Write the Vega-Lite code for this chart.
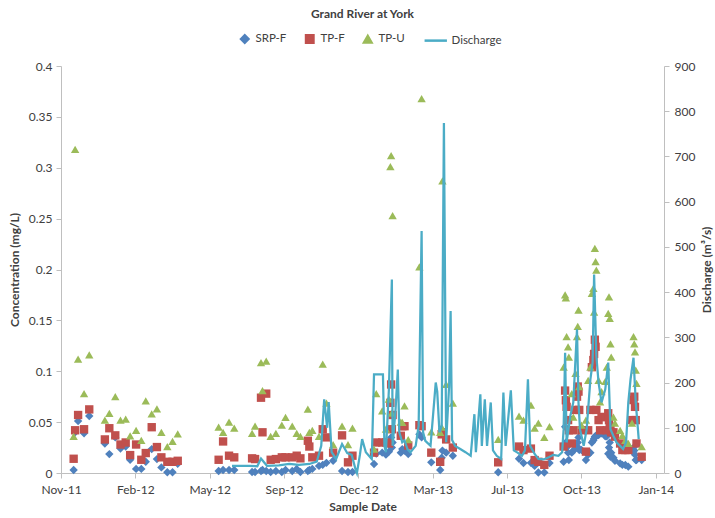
{
  "$schema": "https://vega.github.io/schema/vega-lite/v6.json",
  "width": 603,
  "height": 407,
  "autosize": {"type": "none"},
  "padding": {"left": 61, "top": 66, "right": 51, "bottom": 45},
  "background": "white",
  "title": {"text": "Grand River at York", "frame": "group", "anchor": "middle", "offset": 12, "font": "Lato", "fontSize": 12, "fontWeight": "bold", "color": "#404040"},
  "config": {
    "view": {"stroke": null},
    "font": "Lato",
    "axis": {"grid": false, "domainColor": "#BFBFBF", "tickColor": "#BFBFBF", "labelColor": "#404040", "labelFontSize": 12, "labelFont": "Lato", "titleFont": "Lato", "titleFontSize": 12, "titleFontWeight": "bold", "titleColor": "#404040", "tickSize": 5},
    "legend": {
      "title": null, "orient": "none", "direction": "horizontal", "legendX": 178, "legendY": -33,
      "labelFontSize": 11.5, "labelColor": "#404040", "labelFont": "Lato", "columnPadding": 14, "labelOffset": 5, "padding": 0
    }
  },
  "datasets": {
    "samples": [
      {"date": "2011-11-27", "SRP-F": 0.003, "TP-F": 0.014, "TP-U": 0.036},
      {"date": "2011-11-29", "SRP-F": 0.040, "TP-F": 0.042, "TP-U": 0.318},
      {"date": "2011-12-03", "SRP-F": 0.051, "TP-F": 0.057, "TP-U": 0.112},
      {"date": "2011-12-11", "SRP-F": 0.039, "TP-F": 0.043, "TP-U": 0.078},
      {"date": "2011-12-18", "SRP-F": 0.056, "TP-F": 0.0625, "TP-U": 0.116},
      {"date": "2012-01-08", "SRP-F": 0.029, "TP-F": 0.033, "TP-U": 0.052},
      {"date": "2012-01-14", "SRP-F": 0.0186, "TP-F": 0.044, "TP-U": 0.0585},
      {"date": "2012-01-22", "SRP-F": 0.035, "TP-F": 0.037, "TP-U": 0.075},
      {"date": "2012-01-29", "SRP-F": 0.024, "TP-F": 0.028, "TP-U": 0.052},
      {"date": "2012-02-05", "SRP-F": 0.026, "TP-F": 0.030, "TP-U": 0.053},
      {"date": "2012-02-11", "SRP-F": 0.013, "TP-F": 0.0176, "TP-U": 0.0366},
      {"date": "2012-02-19", "SRP-F": 0.004, "TP-F": 0.028, "TP-U": 0.042},
      {"date": "2012-02-26", "SRP-F": 0.004, "TP-F": 0.013, "TP-U": 0.032},
      {"date": "2012-03-03", "SRP-F": 0.011, "TP-F": 0.0196, "TP-U": 0.071},
      {"date": "2012-03-11", "SRP-F": 0.0235, "TP-F": 0.045, "TP-U": 0.058},
      {"date": "2012-03-18", "SRP-F": 0.0137, "TP-F": 0.0255, "TP-U": 0.063},
      {"date": "2012-03-24", "SRP-F": 0.0055, "TP-F": 0.0154, "TP-U": 0.040},
      {"date": "2012-04-01", "SRP-F": 0.0007, "TP-F": 0.011, "TP-U": 0.026},
      {"date": "2012-04-08", "SRP-F": 0.0007, "TP-F": 0.011, "TP-U": 0.031},
      {"date": "2012-04-15", "SRP-F": 0.009, "TP-F": 0.012, "TP-U": 0.0385},
      {"date": "2012-06-09", "SRP-F": 0.002, "TP-F": 0.013, "TP-U": 0.045},
      {"date": "2012-06-15", "SRP-F": 0.003, "TP-F": 0.031, "TP-U": 0.040},
      {"date": "2012-06-23", "SRP-F": 0.003, "TP-F": 0.017, "TP-U": 0.050},
      {"date": "2012-06-30", "SRP-F": 0.003, "TP-F": 0.0154, "TP-U": 0.044},
      {"date": "2012-07-24", "SRP-F": 0.001, "TP-F": 0.0144, "TP-U": 0.039},
      {"date": "2012-07-28", "SRP-F": 0.001, "TP-F": 0.0137, "TP-U": 0.046},
      {"date": "2012-08-05", "SRP-F": 0.002, "TP-F": 0.074, "TP-U": 0.1085},
      {"date": "2012-08-07", "SRP-F": 0.003, "TP-F": 0.040, "TP-U": 0.081},
      {"date": "2012-08-12", "SRP-F": 0.002, "TP-F": 0.078, "TP-U": 0.110},
      {"date": "2012-08-18", "SRP-F": 0.001, "TP-F": 0.013, "TP-U": 0.036},
      {"date": "2012-08-25", "SRP-F": 0.002, "TP-F": 0.0137, "TP-U": 0.039},
      {"date": "2012-09-02", "SRP-F": 0.001, "TP-F": 0.0154, "TP-U": 0.047},
      {"date": "2012-09-07", "SRP-F": 0.003, "TP-F": 0.0154, "TP-U": 0.0546},
      {"date": "2012-09-16", "SRP-F": 0.002, "TP-F": 0.0154, "TP-U": 0.046},
      {"date": "2012-09-22", "SRP-F": 0.004, "TP-F": 0.017, "TP-U": 0.039},
      {"date": "2012-09-27", "SRP-F": 0.001, "TP-F": 0.0144, "TP-U": 0.036},
      {"date": "2012-10-07", "SRP-F": 0.002, "TP-F": 0.0317, "TP-U": 0.0627},
      {"date": "2012-10-09", "SRP-F": 0.003, "TP-F": 0.026, "TP-U": 0.040},
      {"date": "2012-10-13", "SRP-F": 0.004, "TP-F": 0.0154, "TP-U": 0.042},
      {"date": "2012-10-22", "SRP-F": 0.007, "TP-F": 0.017, "TP-U": 0.036},
      {"date": "2012-10-27", "SRP-F": 0.008, "TP-F": 0.043, "TP-U": 0.107},
      {"date": "2012-11-01", "SRP-F": 0.010, "TP-F": 0.035, "TP-U": 0.0686},
      {"date": "2012-11-10", "SRP-F": 0.012, "TP-F": 0.020, "TP-U": 0.028},
      {"date": "2012-11-22", "SRP-F": 0.002, "TP-F": 0.037, "TP-U": 0.046},
      {"date": "2012-11-30", "SRP-F": 0.001, "TP-F": 0.0105, "TP-U": 0.028},
      {"date": "2012-12-06", "SRP-F": 0.001, "TP-F": 0.017, "TP-U": 0.044},
      {"date": "2013-01-04", "SRP-F": 0.0088, "TP-F": 0.020, "TP-U": 0.0235},
      {"date": "2013-01-07", "SRP-F": 0.019, "TP-F": 0.030, "TP-U": 0.078},
      {"date": "2013-01-15", "SRP-F": 0.020, "TP-F": 0.030, "TP-U": 0.061},
      {"date": "2013-01-20", "SRP-F": 0.018, "TP-F": 0.030, "TP-U": 0.043},
      {"date": "2013-01-24", "SRP-F": 0.021, "TP-F": 0.029, "TP-U": 0.0725},
      {"date": "2013-01-26", "SRP-F": 0.030, "TP-F": 0.069, "TP-U": 0.301},
      {"date": "2013-01-27", "SRP-F": 0.035, "TP-F": 0.087, "TP-U": 0.312},
      {"date": "2013-01-28", "SRP-F": 0.025, "TP-F": 0.043, "TP-U": 0.0588},
      {"date": "2013-01-29", "SRP-F": 0.030, "TP-F": 0.057, "TP-U": 0.253},
      {"date": "2013-02-09", "SRP-F": 0.020, "TP-F": 0.0366, "TP-U": 0.050},
      {"date": "2013-02-11", "SRP-F": 0.0235, "TP-F": 0.046, "TP-U": 0.0497},
      {"date": "2013-02-14", "SRP-F": 0.022, "TP-F": 0.046, "TP-U": 0.066},
      {"date": "2013-02-19", "SRP-F": 0.0186, "TP-F": 0.027, "TP-U": 0.0327},
      {"date": "2013-03-06", "SRP-F": 0.038, "TP-F": 0.047, "TP-U": 0.2026},
      {"date": "2013-03-09", "SRP-F": 0.035, "TP-F": 0.046, "TP-U": 0.368},
      {"date": "2013-03-22", "SRP-F": 0.0105, "TP-F": 0.020, "TP-U": 0.0405},
      {"date": "2013-04-03", "SRP-F": 0.003, "TP-F": 0.011, "TP-U": 0.040},
      {"date": "2013-04-05", "SRP-F": 0.015, "TP-F": 0.038, "TP-U": 0.045},
      {"date": "2013-04-06", "SRP-F": 0.022, "TP-F": 0.040, "TP-U": 0.287},
      {"date": "2013-04-11", "SRP-F": 0.020, "TP-F": 0.033, "TP-U": 0.087},
      {"date": "2013-04-20", "SRP-F": 0.017, "TP-F": 0.025, "TP-U": 0.0686},
      {"date": "2013-06-20", "SRP-F": 0.0007, "TP-F": 0.0105, "TP-U": 0.033},
      {"date": "2013-07-18", "SRP-F": 0.014, "TP-F": 0.026, "TP-U": 0.056},
      {"date": "2013-07-24", "SRP-F": 0.0098, "TP-F": 0.0225, "TP-U": 0.052},
      {"date": "2013-08-03", "SRP-F": 0.010, "TP-F": 0.024, "TP-U": 0.0667},
      {"date": "2013-08-08", "SRP-F": 0.007, "TP-F": 0.0127, "TP-U": 0.044},
      {"date": "2013-08-13", "SRP-F": 0.0005, "TP-F": 0.011, "TP-U": 0.049},
      {"date": "2013-08-21", "SRP-F": 0.0005, "TP-F": 0.008, "TP-U": 0.035},
      {"date": "2013-08-28", "SRP-F": 0.0098, "TP-F": 0.017, "TP-U": 0.0455},
      {"date": "2013-09-16", "SRP-F": 0.011, "TP-F": 0.026, "TP-U": 0.104},
      {"date": "2013-09-18", "SRP-F": 0.0455, "TP-F": 0.081, "TP-U": 0.175},
      {"date": "2013-09-19", "SRP-F": 0.030, "TP-F": 0.0715, "TP-U": 0.172},
      {"date": "2013-09-20", "SRP-F": 0.025, "TP-F": 0.065, "TP-U": 0.134},
      {"date": "2013-09-22", "SRP-F": 0.020, "TP-F": 0.052, "TP-U": 0.124},
      {"date": "2013-09-23", "SRP-F": 0.0128, "TP-F": 0.042, "TP-U": 0.114},
      {"date": "2013-09-27", "SRP-F": 0.020, "TP-F": 0.029, "TP-U": 0.078},
      {"date": "2013-09-29", "SRP-F": 0.022, "TP-F": 0.042, "TP-U": 0.055},
      {"date": "2013-10-02", "SRP-F": 0.024, "TP-F": 0.062, "TP-U": 0.098},
      {"date": "2013-10-04", "SRP-F": 0.026, "TP-F": 0.075, "TP-U": 0.134},
      {"date": "2013-10-05", "SRP-F": 0.030, "TP-F": 0.085, "TP-U": 0.144},
      {"date": "2013-10-06", "SRP-F": 0.035, "TP-F": 0.080, "TP-U": 0.160},
      {"date": "2013-10-07", "SRP-F": 0.0226, "TP-F": 0.062, "TP-U": 0.085},
      {"date": "2013-10-10", "SRP-F": 0.0226, "TP-F": 0.042, "TP-U": 0.047},
      {"date": "2013-10-16", "SRP-F": 0.0128, "TP-F": 0.021, "TP-U": 0.052},
      {"date": "2013-10-19", "SRP-F": 0.018, "TP-F": 0.042, "TP-U": 0.091},
      {"date": "2013-10-22", "SRP-F": 0.020, "TP-F": 0.062, "TP-U": 0.104},
      {"date": "2013-10-24", "SRP-F": 0.030, "TP-F": 0.104, "TP-U": 0.1766},
      {"date": "2013-10-26", "SRP-F": 0.032, "TP-F": 0.111, "TP-U": 0.1815},
      {"date": "2013-10-27", "SRP-F": 0.034, "TP-F": 0.117, "TP-U": 0.158},
      {"date": "2013-10-28", "SRP-F": 0.0357, "TP-F": 0.131, "TP-U": 0.2208},
      {"date": "2013-10-29", "SRP-F": 0.036, "TP-F": 0.124, "TP-U": 0.2077},
      {"date": "2013-10-30", "SRP-F": 0.037, "TP-F": 0.062, "TP-U": 0.1995},
      {"date": "2013-11-02", "SRP-F": 0.0373, "TP-F": 0.052, "TP-U": 0.091},
      {"date": "2013-11-04", "SRP-F": 0.039, "TP-F": 0.042, "TP-U": 0.070},
      {"date": "2013-11-06", "SRP-F": 0.039, "TP-F": 0.055, "TP-U": 0.080},
      {"date": "2013-11-11", "SRP-F": 0.036, "TP-F": 0.055, "TP-U": 0.090},
      {"date": "2013-11-13", "SRP-F": 0.036, "TP-F": 0.042, "TP-U": 0.104},
      {"date": "2013-11-15", "SRP-F": 0.019, "TP-F": 0.0587, "TP-U": 0.157},
      {"date": "2013-11-16", "SRP-F": 0.025, "TP-F": 0.052, "TP-U": 0.173},
      {"date": "2013-11-17", "SRP-F": 0.030, "TP-F": 0.045, "TP-U": 0.152},
      {"date": "2013-11-18", "SRP-F": 0.016, "TP-F": 0.042, "TP-U": 0.127},
      {"date": "2013-11-19", "SRP-F": 0.020, "TP-F": 0.040, "TP-U": 0.114},
      {"date": "2013-11-22", "SRP-F": 0.015, "TP-F": 0.040, "TP-U": 0.055},
      {"date": "2013-11-24", "SRP-F": 0.012, "TP-F": 0.0357, "TP-U": 0.049},
      {"date": "2013-12-01", "SRP-F": 0.0095, "TP-F": 0.029, "TP-U": 0.042},
      {"date": "2013-12-04", "SRP-F": 0.008, "TP-F": 0.0226, "TP-U": 0.037},
      {"date": "2013-12-08", "SRP-F": 0.0079, "TP-F": 0.0226, "TP-U": 0.032},
      {"date": "2013-12-12", "SRP-F": 0.0062, "TP-F": 0.0226, "TP-U": 0.029},
      {"date": "2013-12-17", "SRP-F": 0.0226, "TP-F": 0.052, "TP-U": 0.049},
      {"date": "2013-12-19", "SRP-F": 0.025, "TP-F": 0.0717, "TP-U": 0.134},
      {"date": "2013-12-20", "SRP-F": 0.022, "TP-F": 0.075, "TP-U": 0.127},
      {"date": "2013-12-21", "SRP-F": 0.018, "TP-F": 0.065, "TP-U": 0.119},
      {"date": "2013-12-22", "SRP-F": 0.0128, "TP-F": 0.052, "TP-U": 0.101},
      {"date": "2013-12-23", "SRP-F": 0.0128, "TP-F": 0.029, "TP-U": 0.088},
      {"date": "2013-12-30", "SRP-F": 0.0128, "TP-F": 0.016, "TP-U": 0.026}
    ],
    "flow": [
      {"date": "2012-06-27", "discharge": 16},
      {"date": "2012-07-20", "discharge": 16},
      {"date": "2012-07-31", "discharge": 15},
      {"date": "2012-08-05", "discharge": 32},
      {"date": "2012-08-13", "discharge": 16},
      {"date": "2012-08-29", "discharge": 17},
      {"date": "2012-09-12", "discharge": 20},
      {"date": "2012-09-25", "discharge": 18},
      {"date": "2012-10-09", "discharge": 20},
      {"date": "2012-10-19", "discharge": 25},
      {"date": "2012-10-25", "discharge": 60},
      {"date": "2012-10-29", "discharge": 163},
      {"date": "2012-11-02", "discharge": 100},
      {"date": "2012-11-04", "discharge": 157},
      {"date": "2012-11-08", "discharge": 46},
      {"date": "2012-11-14", "discharge": 31},
      {"date": "2012-11-22", "discharge": 64},
      {"date": "2012-11-29", "discharge": 44},
      {"date": "2012-12-05", "discharge": 40},
      {"date": "2012-12-10", "discharge": 9},
      {"date": "2012-12-12", "discharge": 0},
      {"date": "2012-12-16", "discharge": 40},
      {"date": "2012-12-19", "discharge": 75},
      {"date": "2012-12-24", "discharge": 46},
      {"date": "2013-01-01", "discharge": 31},
      {"date": "2013-01-04", "discharge": 218},
      {"date": "2013-01-16", "discharge": 218},
      {"date": "2013-01-18", "discharge": 60},
      {"date": "2013-01-20", "discharge": 46},
      {"date": "2013-01-24", "discharge": 185},
      {"date": "2013-01-28", "discharge": 428},
      {"date": "2013-01-29", "discharge": 60},
      {"date": "2013-02-02", "discharge": 141},
      {"date": "2013-02-05", "discharge": 229},
      {"date": "2013-02-07", "discharge": 90},
      {"date": "2013-02-11", "discharge": 68},
      {"date": "2013-02-14", "discharge": 72},
      {"date": "2013-02-18", "discharge": 53},
      {"date": "2013-02-22", "discharge": 46},
      {"date": "2013-03-01", "discharge": 60},
      {"date": "2013-03-05", "discharge": 104},
      {"date": "2013-03-09", "discharge": 535},
      {"date": "2013-03-11", "discharge": 90},
      {"date": "2013-03-14", "discharge": 71},
      {"date": "2013-03-21", "discharge": 60},
      {"date": "2013-03-28", "discharge": 200},
      {"date": "2013-03-30", "discharge": 180},
      {"date": "2013-04-02", "discharge": 90},
      {"date": "2013-04-05", "discharge": 104},
      {"date": "2013-04-08", "discharge": 774},
      {"date": "2013-04-11", "discharge": 68},
      {"date": "2013-04-15", "discharge": 193},
      {"date": "2013-04-17", "discharge": 358},
      {"date": "2013-04-19", "discharge": 73},
      {"date": "2013-04-23", "discharge": 60},
      {"date": "2013-04-30", "discharge": 53},
      {"date": "2013-05-07", "discharge": 46},
      {"date": "2013-05-14", "discharge": 38},
      {"date": "2013-05-19", "discharge": 130},
      {"date": "2013-05-21", "discharge": 46},
      {"date": "2013-05-27", "discharge": 174},
      {"date": "2013-05-29", "discharge": 60},
      {"date": "2013-06-02", "discharge": 163},
      {"date": "2013-06-05", "discharge": 60},
      {"date": "2013-06-10", "discharge": 156},
      {"date": "2013-06-13", "discharge": 50},
      {"date": "2013-06-18", "discharge": 38},
      {"date": "2013-06-24", "discharge": 31},
      {"date": "2013-06-27", "discharge": 178},
      {"date": "2013-06-30", "discharge": 60},
      {"date": "2013-07-07", "discharge": 183},
      {"date": "2013-07-11", "discharge": 50},
      {"date": "2013-07-16", "discharge": 45},
      {"date": "2013-07-22", "discharge": 38},
      {"date": "2013-07-26", "discharge": 50},
      {"date": "2013-07-30", "discharge": 207},
      {"date": "2013-08-02", "discharge": 60},
      {"date": "2013-08-08", "discharge": 42},
      {"date": "2013-08-13", "discharge": 31},
      {"date": "2013-08-20", "discharge": 30},
      {"date": "2013-08-27", "discharge": 35},
      {"date": "2013-09-02", "discharge": 40},
      {"date": "2013-09-09", "discharge": 38},
      {"date": "2013-09-14", "discharge": 46},
      {"date": "2013-09-16", "discharge": 97},
      {"date": "2013-09-18", "discharge": 266},
      {"date": "2013-09-20", "discharge": 68},
      {"date": "2013-09-25", "discharge": 126},
      {"date": "2013-09-29", "discharge": 156},
      {"date": "2013-10-04", "discharge": 318},
      {"date": "2013-10-06", "discharge": 156},
      {"date": "2013-10-08", "discharge": 97},
      {"date": "2013-10-13", "discharge": 60},
      {"date": "2013-10-17", "discharge": 97},
      {"date": "2013-10-22", "discharge": 207},
      {"date": "2013-10-25", "discharge": 244},
      {"date": "2013-10-27", "discharge": 439},
      {"date": "2013-10-30", "discharge": 259},
      {"date": "2013-11-02", "discharge": 200},
      {"date": "2013-11-06", "discharge": 156},
      {"date": "2013-11-11", "discharge": 185},
      {"date": "2013-11-15", "discharge": 244},
      {"date": "2013-11-18", "discharge": 97},
      {"date": "2013-11-22", "discharge": 82},
      {"date": "2013-11-26", "discharge": 68},
      {"date": "2013-12-01", "discharge": 60},
      {"date": "2013-12-05", "discharge": 53},
      {"date": "2013-12-09", "discharge": 68},
      {"date": "2013-12-12", "discharge": 156},
      {"date": "2013-12-15", "discharge": 207},
      {"date": "2013-12-19", "discharge": 255},
      {"date": "2013-12-22", "discharge": 156},
      {"date": "2013-12-26", "discharge": 75}
    ]
  },
  "layer": [
    {
      "data": {"name": "samples"},
      "transform": [{"fold": ["SRP-F", "TP-F", "TP-U"], "as": ["series", "value"]}],
      "mark": {"type": "point", "filled": true, "opacity": 1, "size": 70},
      "encoding": {
        "x": {
          "field": "date", "type": "temporal",
          "scale": {"type": "utc", "domain": [{"year": 2011, "month": 11, "date": 10, "utc": true}, {"year": 2014, "month": 1, "date": 29, "utc": true}]},
          "axis": {
            "title": "Sample Date", "format": "%b-%y", "labelPadding": 6, "titlePadding": 6, "labelOverlap": false, "labelFlush": false,
            "values": [
              {"year": 2011, "month": 11, "date": 10, "utc": true},
              {"year": 2012, "month": 2, "date": 18, "utc": true},
              {"year": 2012, "month": 5, "date": 28, "utc": true},
              {"year": 2012, "month": 9, "date": 5, "utc": true},
              {"year": 2012, "month": 12, "date": 14, "utc": true},
              {"year": 2013, "month": 3, "date": 24, "utc": true},
              {"year": 2013, "month": 7, "date": 2, "utc": true},
              {"year": 2013, "month": 10, "date": 10, "utc": true},
              {"year": 2014, "month": 1, "date": 18, "utc": true}
            ]
          }
        },
        "y": {
          "field": "value", "type": "quantitative",
          "scale": {"domain": [0, 0.4], "nice": false},
          "axis": {"title": "Concentration (mg/L)", "values": [0, 0.05, 0.1, 0.15, 0.2, 0.25, 0.3, 0.35, 0.4], "format": "~g", "labelPadding": 4, "titlePadding": 7}
        },
        "color": {
          "field": "series", "type": "nominal",
          "scale": {"domain": ["SRP-F", "TP-F", "TP-U", "Discharge"], "range": ["#4F81BD", "#C0504D", "#9BBB59", "#4BACC6"]},
          "legend": {
            "encode": {
              "symbols": {
                "update": {
                  "shape": {"signal": "datum.value === 'SRP-F' ? 'diamond' : datum.value === 'TP-F' ? 'square' : datum.value === 'TP-U' ? 'triangle-up' : 'stroke'"},
                  "size": {"signal": "datum.value === 'Discharge' ? 500 : 55"},
                  "fill": {"signal": "datum.value === 'SRP-F' ? '#4F81BD' : datum.value === 'TP-F' ? '#C0504D' : datum.value === 'TP-U' ? '#9BBB59' : 'transparent'"},
                  "stroke": {"signal": "datum.value === 'Discharge' ? '#4BACC6' : 'transparent'"},
                  "strokeWidth": {"value": 2.5},
                  "opacity": {"value": 1}
                }
              },
              "labels": {
                "update": {
                  "dx": {"signal": "datum.value === 'Discharge' ? 5 : 0"}
                }
              }
            }
          }
        },
        "shape": {
          "field": "series", "type": "nominal",
          "scale": {"domain": ["SRP-F", "TP-F", "TP-U"], "range": ["diamond", "square", "triangle-up"]},
          "legend": null
        },
        "order": {"field": "series", "type": "nominal"}
      }
    },
    {
      "data": {"name": "flow"},
      "mark": {"type": "line", "strokeWidth": 2.25},
      "encoding": {
        "x": {"field": "date", "type": "temporal"},
        "y": {
          "field": "discharge", "type": "quantitative",
          "scale": {"domain": [0, 900], "nice": false},
          "axis": {"orient": "right", "title": "Discharge (m³/s)", "values": [0, 100, 200, 300, 400, 500, 600, 700, 800, 900], "format": "d", "labelPadding": 5, "titlePadding": 19, "titleAngle": 270}
        },
        "color": {
          "datum": "Discharge", "type": "nominal",
          "legend": {
            "encode": {
              "symbols": {
                "update": {
                  "shape": {"signal": "datum.value === 'SRP-F' ? 'diamond' : datum.value === 'TP-F' ? 'square' : datum.value === 'TP-U' ? 'triangle-up' : 'stroke'"},
                  "size": {"signal": "datum.value === 'Discharge' ? 500 : 55"},
                  "fill": {"signal": "datum.value === 'SRP-F' ? '#4F81BD' : datum.value === 'TP-F' ? '#C0504D' : datum.value === 'TP-U' ? '#9BBB59' : 'transparent'"},
                  "stroke": {"signal": "datum.value === 'Discharge' ? '#4BACC6' : 'transparent'"},
                  "strokeWidth": {"value": 2.5},
                  "opacity": {"value": 1}
                }
              },
              "labels": {
                "update": {
                  "dx": {"signal": "datum.value === 'Discharge' ? 5 : 0"}
                }
              }
            }
          }
        }
      }
    }
  ],
  "resolve": {"scale": {"y": "independent"}}
}
